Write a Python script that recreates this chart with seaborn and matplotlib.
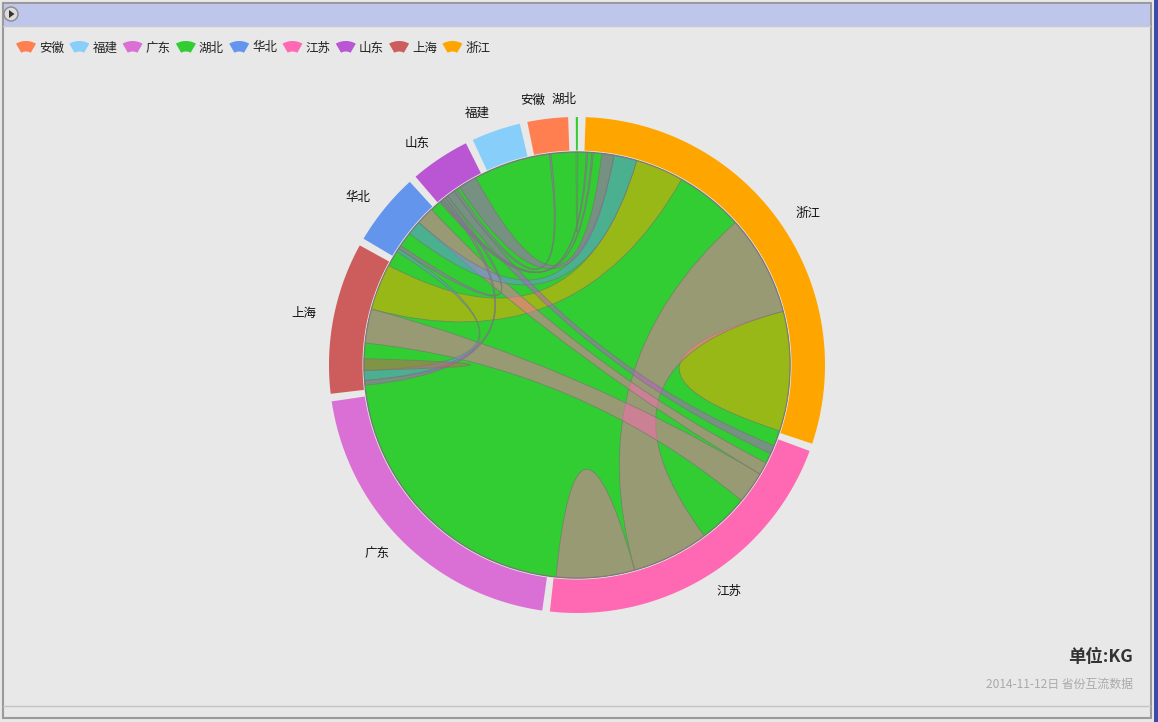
import numpy as np
import matplotlib
matplotlib.use('Agg')
import matplotlib.pyplot as plt
from matplotlib.path import Path
from matplotlib.patches import PathPatch, Polygon, Circle, Rectangle
import seaborn as sns

# legend order = colour order of the chart
legend_names = ['安徽', '福建', '广东', '湖北', '华北', '江苏', '山东', '上海', '浙江']
legend_colors = ['#ff7f50', '#87cefa', '#da70d6', '#32cd32', '#6495ed',
                 '#ff69b4', '#ba55d3', '#cd5c5c', '#ffa500']

# provinces clockwise round the ring, starting just right of the top
ring_order = ['浙江', '江苏', '广东', '上海', '华北', '山东', '福建', '安徽', '湖北']
codes = {'zj': '浙江', 'js': '江苏', 'gd': '广东', 'sh': '上海', 'hb': '华北',
         'sd': '山东', 'fj': '福建', 'ah': '安徽', 'hub': '湖北'}

# flows at each province (KG), clockwise; '-' is the plain green part
zhejiang = [('-', 5), ('sd_zj2', 4), ('-', 11), ('sd_zj3', 4), ('-', 23), ('sd_zj', 33),
            ('hb_zj', 63), ('zj_sh', 131), ('-', 186), ('js_zj', 274), ('zj_zj', 326), ('-', 5)]
jiangsu = [('-', 20), ('sd_js', 23), ('-', 28), ('js_hb', 34), ('js_sh', 87), ('-', 138),
           ('js_zj', 210), ('js_js', 214), ('-', 6)]
guangdong = [('-', 735)]
shanghai = [('-', 12), ('sd_sh', 13), ('hb_sh', 27), ('sh_sh', 32), ('-', 42),
            ('js_sh', 93), ('zj_sh', 126), ('-', 10)]
huabei = [('-', 16), ('hb_sh', 9), ('sd_hb', 10), ('-', 40), ('hb_zj', 39), ('js_hb', 49), ('-', 7)]
shandong = [('-', 5), ('sd_zj2', 5), ('sd_zj3', 6), ('sd_sh', 8), ('sd_hb', 8), ('sd_js', 22),
            ('sd_ah', 9), ('-', 8), ('sd_zj', 51), ('-', 18)]
fujian = [('-', 115)]
anhui = [('-', 40), ('sd_ah', 5), ('-', 50)]
hubei = [('hub_hub', 5)]

flows = {'浙江': zhejiang, '江苏': jiangsu, '广东': guangdong, '上海': shanghai, '华北': huabei,
         '山东': shandong, '福建': fujian, '安徽': anhui, '湖北': hubei}

sns.set_theme(style='white')
plt.rcParams['font.family'] = ['Noto Sans CJK SC', 'DejaVu Sans']

palette = dict(zip(legend_names, sns.color_palette(legend_colors)))

W, H = 1158, 722
fig = plt.figure(figsize=(W / 100, H / 100), dpi=100, facecolor='#e8e8e8')
ax = fig.add_axes([0, 0, 1, 1])
ax.set_xlim(0, W)
ax.set_ylim(H, 0)
ax.axis('off')

# frame of the widget
ax.add_patch(Rectangle((2.5, 2.5), 1148, 715, fc='#e8e8e8', ec='#9a9a9a', lw=1.5))
ax.add_patch(Rectangle((3.5, 3.5), 1146, 22, fc='#bec6ec', ec='none'))
ax.plot([3, 1150], [26, 26], color='#c8c8d0', lw=1)
ax.plot([3, 1150], [706, 706], color='#c4c4c4', lw=1)
ax.add_patch(Rectangle((1154, 0), 4, H, fc='#3c4aa8', ec='none'))
ax.add_patch(Circle((11, 14), 7, fc='#dcdcdc', ec='#8a8a8a', lw=1))
ax.add_patch(Polygon([(9, 10), (9, 18), (14.5, 14)], closed=True, fc='#333333', ec='none'))

cx, cy = 577, 365
r_disk, r_in, r_out = 213, 214.5, 248
gap = 16 / 9
total = sum(v for node in ring_order for _, v in flows[node])
scale = (360 - len(ring_order) * gap) / total


def pt(theta, r):
    t = np.radians(theta)
    return cx + r * np.cos(t), cy - r * np.sin(t)


def arc_pts(a, b, r, n=60):
    ts = np.linspace(a, b, n)
    return [pt(t, r) for t in ts]


# lay out the arcs and flow segments
node_span = {}
seg_ends = {}
pos = 88.0
for node in ring_order:
    start = pos
    for fid, kg in flows[node]:
        end = pos - kg * scale
        if fid != '-':
            seg_ends.setdefault(fid, []).append((pos, end))
        pos = end
    node_span[node] = (start, pos)
    pos -= gap

# green base of the ribbon area (湖北 colour in the reference)
ax.add_patch(Circle((cx, cy), r_disk, fc=palette['湖北'], ec='#6f7f6f', lw=1, zorder=1))

edge = (0.43, 0.49, 0.43, 0.75)
order = ['zj_zj', 'js_zj', 'js_js', 'zj_sh', 'js_sh', 'js_hb', 'hb_zj', 'sd_zj', 'sd_js',
         'hb_sh', 'sd_sh', 'sh_sh', 'sd_hb', 'sd_zj2', 'sd_zj3', 'sd_ah', 'hub_hub']
for fid in order:
    ends = seg_ends[fid]
    src = codes[fid.split('_')[0]]
    col = palette[src]
    verts, cmds = [], []
    a1, a2 = ends[0]
    pts = arc_pts(a1, a2, r_disk)
    verts += pts
    cmds += [Path.MOVETO] + [Path.LINETO] * (len(pts) - 1)
    if len(ends) == 2:
        b1, b2 = ends[1]
        verts += [(cx, cy), pt(b1, r_disk)]
        cmds += [Path.CURVE3, Path.CURVE3]
        pts = arc_pts(b1, b2, r_disk)[1:]
        verts += pts
        cmds += [Path.LINETO] * len(pts)
    verts += [(cx, cy), pt(a1, r_disk), pt(a1, r_disk)]
    cmds += [Path.CURVE3, Path.CURVE3, Path.CLOSEPOLY]
    ax.add_patch(PathPatch(Path(verts, cmds), fc=(*col, 0.5), ec=edge, lw=0.6, zorder=2))

# outer arcs and labels
for node in ring_order:
    a, b = node_span[node]
    poly = arc_pts(a, b, r_out) + arc_pts(b, a, r_in)
    ax.add_patch(Polygon(poly, closed=True, fc=palette[node], ec='none', zorder=3))
    mid = (a + b) / 2
    lx, ly = pt(mid, 266)
    ha = 'left' if np.cos(np.radians(mid)) > 0 else 'right'
    ax.text(lx, ly, node, ha=ha, va='center', fontsize=9, color='#111111')

# legend with fan-shaped icons
for i, name in enumerate(legend_names):
    x0 = 16 + 53.3 * i
    fx, fy = x0 + 10, 61
    fan = arc_pts(60, 120, 20, 20) + arc_pts(120, 60, 9.5, 20)
    fan = [(fx + (px - cx), fy + (py - cy)) for px, py in fan]
    ax.add_patch(Polygon(fan, closed=True, fc=palette[name], ec='none'))
    ax.text(x0 + 23, 48, name, ha='left', va='center', fontsize=9, color='#222222')

ax.text(1133, 657, '单位:KG', ha='right', va='center', fontsize=12.5,
        fontweight='bold', color='#333333')
ax.text(1133, 684, '2014-11-12日 省份互流数据', ha='right', va='center',
        fontsize=8.6, color='#aaaaaa')

fig.savefig('out.png', dpi=100, facecolor=fig.get_facecolor())
